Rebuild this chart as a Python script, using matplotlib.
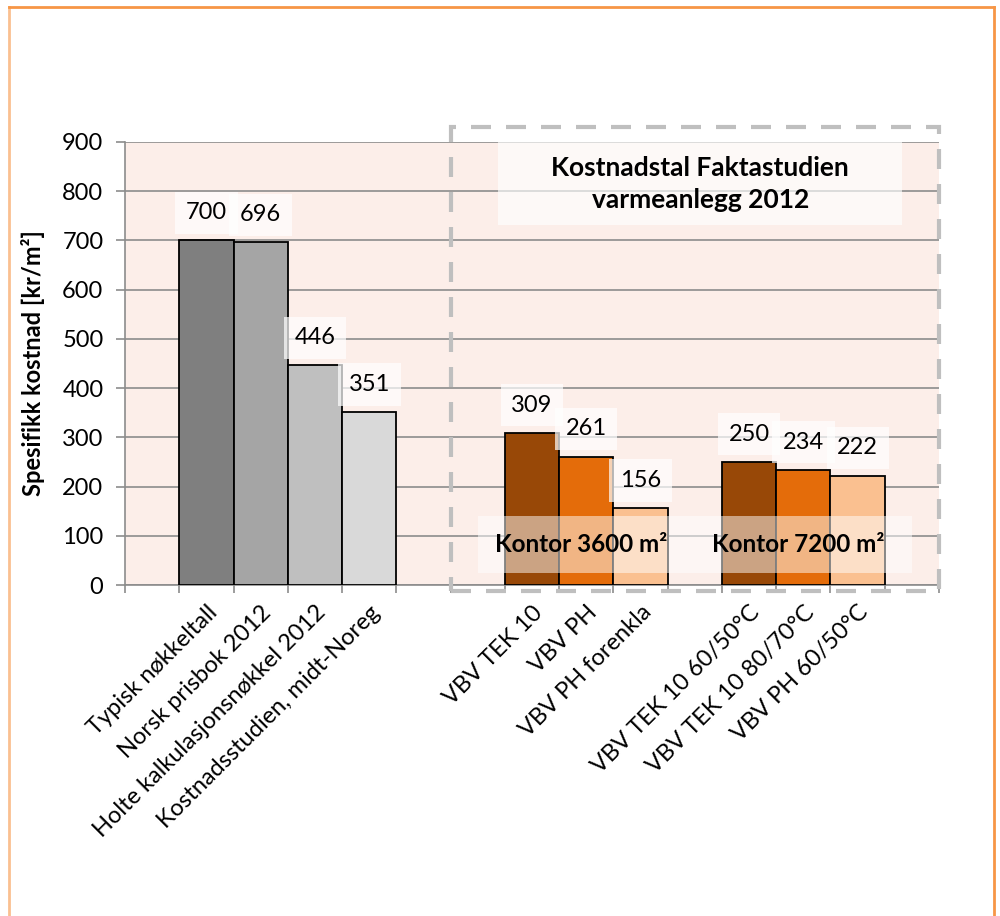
import matplotlib.pyplot as plt
import numpy as np
from matplotlib.patches import Rectangle
from matplotlib.lines import Line2D

plt.rcParams['font.family'] = ['Lato', 'DejaVu Sans']

# 15 category slots, blanks are empty gaps in the chart
categories = ['', 'Typisk nøkkeltall', 'Norsk prisbok 2012', 'Holte kalkulasjonsnøkkel 2012',
              'Kostnadsstudien, midt-Noreg', '', '', 'VBV TEK 10', 'VBV PH', 'VBV PH forenkla', '',
              'VBV TEK 10 60/50°C', 'VBV TEK 10 80/70°C', 'VBV PH 60/50°C', '']
values = [np.nan, 700, 696, 446, 351, np.nan, np.nan, 309, 261, 156, np.nan, 250, 234, 222, np.nan]
bar_colors = ['none', '#7F7F7F', '#A5A5A5', '#BFBFBF', '#D9D9D9', 'none', 'none',
              '#984807', '#E46C0A', '#FAC090', 'none', '#984807', '#E46C0A', '#FAC090', 'none']

title_text = 'Kostnadstal Faktastudien\nvarmeanlegg 2012'
group_labels = ['Kontor 3600 m²', 'Kontor 7200 m²']
group_centers = [8, 12]

fig = plt.figure(figsize=(10, 9.16), dpi=100)
ax = fig.add_axes([0.125, 1 - 585 / 916, 0.814, (585 - 142) / 916])
ax.set_facecolor('#FCEEE9')

x = np.arange(len(categories))
vals = np.array(values, dtype=float)
mask = ~np.isnan(vals)
ax.bar(x[mask], vals[mask], width=1.0, color=[c for c, m in zip(bar_colors, mask) if m],
       edgecolor='black', linewidth=1.3, zorder=3)

ax.set_xlim(-0.5, len(categories) - 0.5)
ax.set_ylim(0, 900)
ax.set_yticks(np.arange(0, 901, 100))
ax.grid(axis='y', color='#8C8C8C', linewidth=1.2, zorder=1)
ax.set_axisbelow(True)

# tick marks on slot boundaries, labels on slot centres
ax.set_xticks(np.arange(-0.5, len(categories), 1.0))
ax.set_xticklabels([])
ax.set_xticks(x, minor=True)
ax.set_xticklabels(categories, minor=True, rotation=45, ha='right', va='top',
                   rotation_mode='anchor', fontsize=17)
ax.tick_params(axis='x', which='major', length=6, width=1.2, color='#8C8C8C')
ax.tick_params(axis='x', which='minor', length=0, pad=12)
ax.tick_params(axis='y', length=6.5, width=1.2, color='#8C8C8C', labelsize=17, pad=9)

for s in ['top', 'right']:
    ax.spines[s].set_visible(False)
for s in ['left', 'bottom']:
    ax.spines[s].set_color('#8C8C8C')
    ax.spines[s].set_linewidth(1.2)

ax.set_ylabel('Spesifikk kostnad [kr/m²]', fontsize=17, fontweight='bold')
ax.yaxis.set_label_coords(-0.098, 0.5)

# value labels
for xi, v in zip(x[mask], vals[mask]):
    ax.annotate(f'{v:.0f}', (xi, v), xytext=(0, 20), textcoords='offset points',
                ha='center', va='center', fontsize=17, zorder=5,
                bbox=dict(boxstyle='square,pad=0.45', facecolor='white', edgecolor='none', alpha=0.7))

# title box inside dashed region
ax.add_patch(Rectangle((6.37, 731), 7.44, 169, facecolor='white', edgecolor='none',
                       alpha=0.65, zorder=4))
ax.text(10.1, 815, title_text, ha='center', va='center', fontsize=19,
        fontweight='bold', linespacing=1.4, zorder=5)

# group label boxes
for gc, gl in zip(group_centers, group_labels):
    ax.add_patch(Rectangle((gc - 2.0, 25), 4.0, 116, facecolor='white', edgecolor='none',
                           alpha=0.5, zorder=4))
    ax.text(gc - 0.1, 83, gl, ha='center', va='center', fontsize=17.5,
            fontweight='bold', zorder=5)

# dashed frame around the study group
ax.add_patch(Rectangle((5.5, -12), 9.0, 942, facecolor='none', edgecolor='#BFBFBF',
                       linewidth=3, linestyle=(0, (4.8, 3.6)), clip_on=False, zorder=6))

# orange outer frame
fig.add_artist(Line2D([9 / 1000, 9 / 1000], [0, 1 - 7 / 916], color='#FAC090', linewidth=2))
fig.add_artist(Line2D([9 / 1000, 994 / 1000], [1 - 7 / 916, 1 - 7 / 916], color='#F79646', linewidth=2))
fig.add_artist(Line2D([994 / 1000, 994 / 1000], [0, 1 - 7 / 916], color='#F79646', linewidth=2))

fig.savefig('out.png', dpi=100, facecolor='white')
